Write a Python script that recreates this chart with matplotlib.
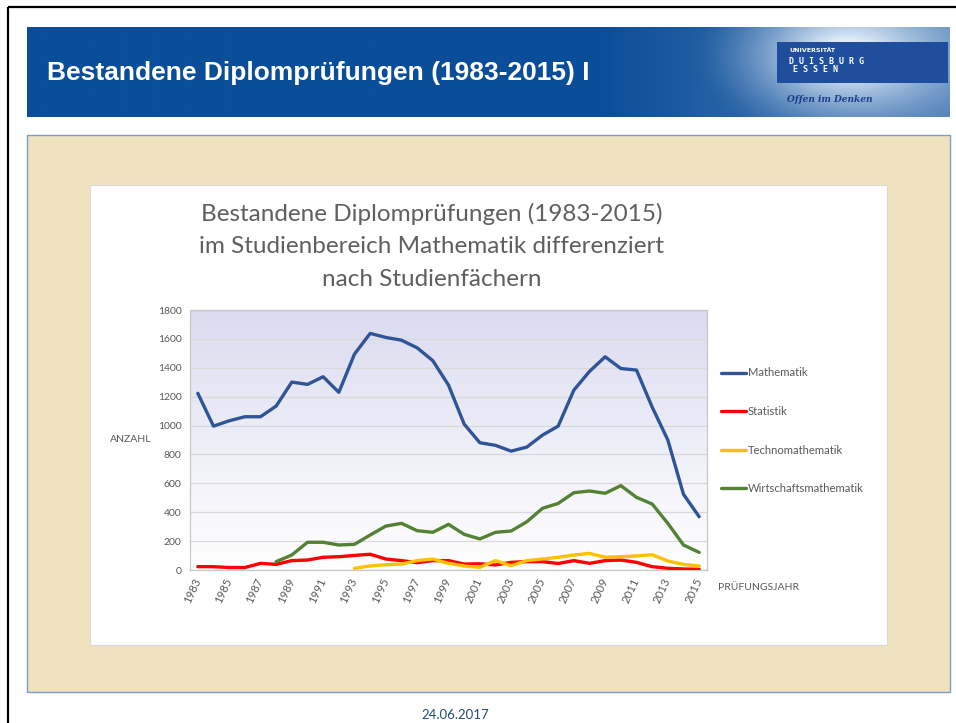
import numpy as np
import matplotlib.pyplot as plt
from matplotlib.patches import Rectangle

# ---------------- data ----------------
years = list(range(1983, 2016))
mathematik = [1223, 996, 1033, 1061, 1061, 1135, 1301, 1285, 1338, 1230, 1495,
              1638, 1610, 1591, 1538, 1449, 1280, 1010, 881, 863, 823, 851,
              934, 996, 1245, 1375, 1476, 1395, 1384, 1128, 900, 524, 369]
statistik = [23, 23, 17, 17, 46, 39, 65, 69, 88, 92, 101,
             109, 76, 65, 51, 65, 65, 41, 43, 35, 53, 58, 58,
             45, 65, 46, 65, 69, 53, 23, 12, 7, 5]
nan = np.nan
technomathematik = [nan] * 10 + [12, 28, 37, 41, 65, 76, 46, 28, 18, 65, 30, 65, 76,
                                 88, 104, 115, 88, 92, 97, 106, 62, 39, 28]
wirtschaftsmathematik = [nan] * 5 + [58, 104, 192, 192, 173, 178, 242, 304, 323, 272,
                                     261, 316, 247, 215, 261, 270, 334, 427, 461, 535,
                                     547, 531, 584, 503, 457, 323, 173, 122]
series_names = ["Mathematik", "Statistik", "Technomathematik", "Wirtschaftsmathematik"]
series_colors = ["#2F5597", "#FF0000", "#FFC000", "#548235"]
tick_years = years[::2]
y_ticks = list(range(0, 1801, 200))

slide_title = "Bestandene Diplomprüfungen (1983-2015) I"
chart_title = ["Bestandene Diplomprüfungen (1983-2015)",
               "im Studienbereich Mathematik differenziert",
               "nach Studienfächern"]
footer = "24.06.2017"

# ---------------- figure ----------------
W, H = 956, 723
fig = plt.figure(figsize=(W / 100, H / 100), dpi=100)
bg = fig.add_axes([0, 0, 1, 1])
bg.set_xlim(0, W)
bg.set_ylim(H, 0)
bg.axis("off")

# outer black frame
bg.plot([8, 8], [7, H], color="black", lw=1.6, solid_capstyle="butt")
bg.plot([8, W], [7, 7], color="black", lw=1.6, solid_capstyle="butt")

# banner with gradient / glow
bx0, bx1, by0, by1 = 27, 950, 27, 117
nx, ny = 400, 60
xs = np.linspace(bx0, bx1, nx)
ys = np.linspace(by0, by1, ny)
X, Y = np.meshgrid(xs, ys)
base = np.array([10, 77, 152]) / 255.0
light = np.array([230, 240, 252]) / 255.0
d = np.sqrt(((X - 845) / 150.0) ** 2 + ((Y - 55) / 90.0) ** 2)
glow = np.clip(1 - d, 0, 1) ** 1.4
ramp = np.clip((X - 600) / 350.0, 0, 1) * 0.35
t = np.clip(glow * 0.95 + ramp, 0, 1)[..., None]
img = base * (1 - t) + light * t
bg.imshow(img, extent=[bx0, bx1, by1, by0], aspect="auto", zorder=1,
          interpolation="bilinear")
bg.text(47, 73, slide_title, color="white", fontsize=19, fontweight="bold",
        family="Liberation Sans", va="center", ha="left", zorder=3)

# logo
bg.add_patch(Rectangle((777, 42), 171, 41, facecolor="#1E4E9C", edgecolor="none", zorder=2))
bg.text(789, 50, "UNIVERSITÄT", color="white", fontsize=4.5, fontweight="bold",
        family="DejaVu Sans", va="center", zorder=3)
bg.text(789, 62, "D U I S B U R G", color="white", fontsize=6, fontweight="bold",
        family="DejaVu Sans Mono", va="center", zorder=3)
bg.text(793, 70, "E S S E N", color="white", fontsize=6, fontweight="bold",
        family="DejaVu Sans Mono", va="center", zorder=3)
bg.text(787, 100, "Offen im Denken", color="#1A3F8A", fontsize=6.5, fontweight="bold",
        fontstyle="italic", family="DejaVu Serif", va="center", zorder=3)

# beige panel and white chart area
bg.add_patch(Rectangle((27, 135), 923, 557, facecolor="#EEE2BF", edgecolor="#7F9DC4",
                       lw=1.0, zorder=1))
bg.add_patch(Rectangle((90, 185), 797, 460, facecolor="white", edgecolor="#D9D9D9",
                       lw=0.8, zorder=2))

# chart title
for i, line in enumerate(chart_title):
    bg.text(432, 214 + i * 32.5, line, color="#5F5F5F", fontsize=17.5, family="Lato",
            ha="center", va="center", zorder=3)

bg.text(110, 440, "ANZAHL", color="#595959", fontsize=7.5, family="Lato",
        ha="left", va="center", zorder=3)
bg.text(718, 588, "PRÜFUNGSJAHR", color="#595959", fontsize=7.5, family="Lato",
        ha="left", va="center", zorder=3)
bg.text(455, 715, footer, color="#1F4E79", fontsize=9.5, family="Lato",
        ha="center", va="center", zorder=3)

# ---------------- chart ----------------
ax = fig.add_axes([190 / W, 1 - 570 / H, 517 / W, 260 / H])
ax.set_zorder(5)
grad = np.linspace(0, 1, 256)[:, None]
top = np.array([218, 218, 240]) / 255.0
bot = np.array([255, 255, 255]) / 255.0
gimg = (top * (1 - grad[..., None] ** 0.9) + bot * grad[..., None] ** 0.9)
gimg = np.repeat(gimg, 2, axis=1)
ax.imshow(gimg, extent=[1982.5, 2015.5, 0, 1800], aspect="auto", zorder=-1,
          origin="upper", interpolation="bilinear")

data = [mathematik, statistik, technomathematik, wirtschaftsmathematik]
for vals, name, col in zip(data, series_names, series_colors):
    ax.plot(years, vals, color=col, lw=2.4, label=name, solid_capstyle="round",
            solid_joinstyle="round", zorder=3)

ax.set_xlim(1982.5, 2015.5)
ax.set_ylim(0, 1800)
ax.set_yticks(y_ticks)
ax.set_xticks(tick_years)
ax.set_xticklabels([str(y) for y in tick_years], rotation=65, ha="right",
                   va="center", rotation_mode="anchor")
ax.tick_params(length=0, labelsize=7.5, labelcolor="#595959", pad=6)
ax.tick_params(axis="x", labelsize=8.2)
for lab in ax.get_xticklabels() + ax.get_yticklabels():
    lab.set_family("Lato")
ax.yaxis.grid(True, color="#D9D9D9", lw=0.9)
ax.set_axisbelow(True)
for s in ax.spines.values():
    s.set_color("#C8C8C8")
    s.set_linewidth(0.9)

ax.legend(loc="upper left", bbox_to_anchor=(716 / W, 1 - 363 / H),
          bbox_transform=fig.transFigure, frameon=False, handlelength=2.3,
          handletextpad=0.12, labelspacing=2.45, borderaxespad=0,
          prop={"family": "Lato", "size": 8.1}, labelcolor="#595959")

fig.savefig("out.png", dpi=100)
